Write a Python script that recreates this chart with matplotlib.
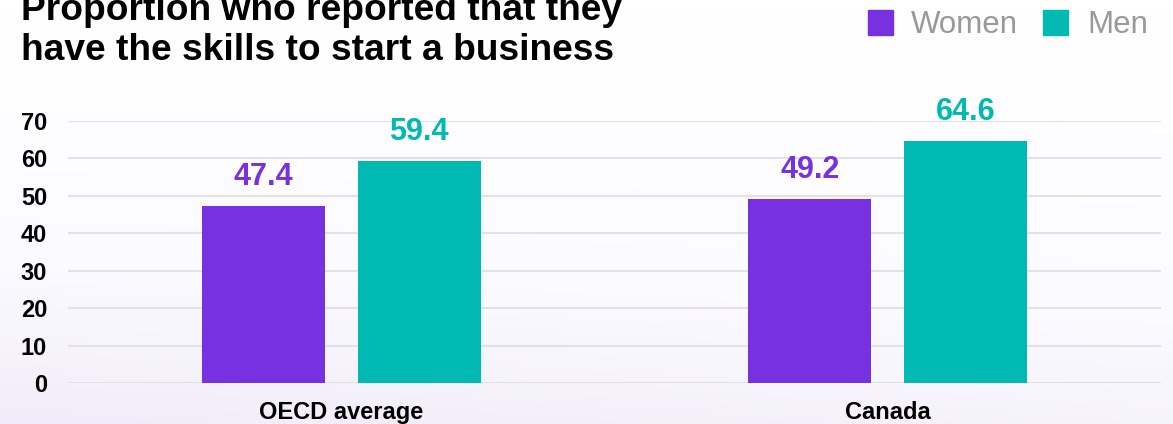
import numpy as np
import matplotlib
matplotlib.use("Agg")
from matplotlib import pyplot as plt
from matplotlib.colors import LinearSegmentedColormap

plt.rcParams['font.family'] = ['Liberation Sans', 'DejaVu Sans']

# 数据
categories = ['OECD average', 'Canada']
women = [47.4, 49.2]
men = [59.4, 64.6]
series_names = ['Women', 'Men']
y_ticks = [0, 10, 20, 30, 40, 50, 60, 70]

purple = '#7731e1'
teal = '#00b9b3'

fig = plt.figure(figsize=(11.73, 4.24), dpi=100)

# 背景淡紫色渐变（上白下紫）
bg = fig.add_axes([0, 0, 1, 1], zorder=-10)
cmap = LinearSegmentedColormap.from_list('bg', ['#ffffff', '#fbfaff', '#f0ecf9'])
yy, xx = np.mgrid[0:1:200j, 0:1:400j]
grad = np.clip(yy ** 1.5 * (0.75 + 0.25 * (1 - xx)), 0, 1)
bg.imshow(grad, cmap=cmap, aspect='auto', extent=[0, 1, 0, 1], origin='upper',
          vmin=0, vmax=1)
bg.axis('off')

ax = fig.add_axes([68 / 1173, 40.7 / 424, (1161 - 68) / 1173, 262.5 / 424])
ax.patch.set_alpha(0)

x = np.arange(len(categories))
w = 0.225
off = 0.1425
b1 = ax.bar(x - off, women, w, color=purple, zorder=3)
b2 = ax.bar(x + off, men, w, color=teal, zorder=3)

for bars, vals, c in [(b1, women, purple), (b2, men, teal)]:
    for rect, v in zip(bars, vals):
        ax.annotate(f'{v:.1f}', (rect.get_x() + rect.get_width() / 2, v),
                    xytext=(0, 10), textcoords='offset points',
                    ha='center', va='bottom', fontsize=22, fontweight='bold',
                    color=c, clip_on=False)

ax.set_xlim(-0.5, 1.5)
ax.set_ylim(0, 70)
ax.set_yticks(y_ticks)
ax.set_xticks(x)
ax.set_xticklabels(categories, fontsize=17, fontweight='bold')
for t in ax.get_yticklabels():
    t.set_fontsize(17)
    t.set_fontweight('bold')
ax.tick_params(axis='y', length=0, pad=15)
ax.tick_params(axis='x', length=0, pad=13)
ax.grid(axis='y', color='#e2e2e2', linewidth=1.5, zorder=0)
for s in ax.spines.values():
    s.set_visible(False)

fig.text(21 / 1173, 1 - 60 / 424,
         'Proportion who reported that they\nhave the skills to start a business',
         fontsize=26.7, fontweight='bold', va='baseline', ha='left',
         linespacing=1.2)

# 图例
for i, (name, c) in enumerate(zip(series_names, [purple, teal])):
    sx = [868, 1043][i]
    fig.patches.append(plt.Rectangle((sx / 1173, 1 - 35 / 424), 25 / 1173, 25 / 424,
                                     transform=fig.transFigure, color=c))
    fig.text([911, 1087][i] / 1173, 1 - 33 / 424, name, fontsize=22.5,
             color='#999999', va='baseline', ha='left')

fig.savefig('out.png', dpi=100)
